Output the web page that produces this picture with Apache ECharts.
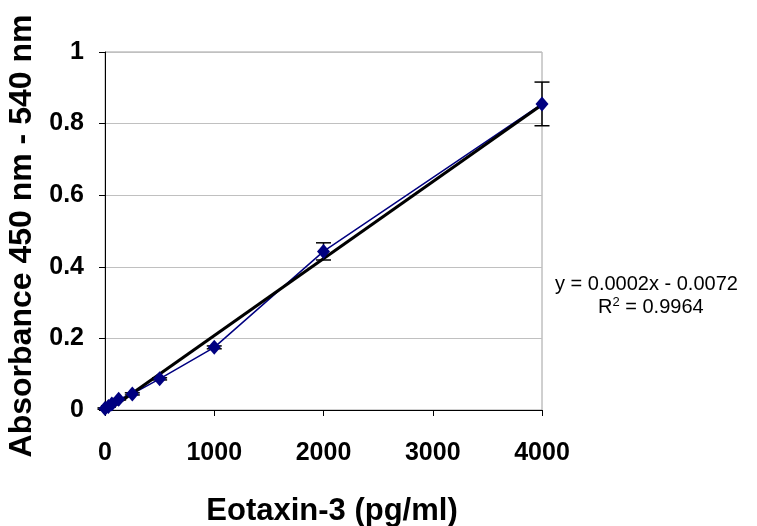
<!DOCTYPE html>
<html>
<head>
<meta charset="utf-8">
<style>
  html, body { margin: 0; padding: 0; background: #fff; }
  #chart { width: 757px; height: 526px; }
</style>
<script src="https://cdn.jsdelivr.net/npm/echarts@6/dist/echarts.min.js"></script>
</head>
<body>
<div id="chart"></div>
<script>
// Eotaxin-3 standard curve: concentration vs. absorbance
const concentrations = [0, 31.25, 62.5, 125, 250, 500, 1000, 2000, 4000];
const absorbance     = [0.004, 0.010, 0.017, 0.030, 0.045, 0.087, 0.175, 0.443, 0.855];
const errors         = [0.002, 0.002, 0.002, 0.002, 0.003, 0.003, 0.004, 0.024, 0.061];

// Linear trendline
const trendSlope = 0.000215;
const trendIntercept = -0.0072;
const rSquared = 0.9964;
const trendRange = [0, 4000];

const xTicks = [0, 1000, 2000, 3000, 4000];
const yTicks = [0, 0.2, 0.4, 0.6, 0.8, 1];

const points = concentrations.map((c, i) => [c, absorbance[i]]);
const errorData = concentrations.map((c, i) => [c, absorbance[i] - errors[i], absorbance[i] + errors[i]]);
const trendData = trendRange.map(x => [x, trendSlope * x + trendIntercept]);

const chart = echarts.init(document.getElementById('chart'), null, { renderer: 'canvas' });

const font = 'Arial, "Liberation Sans", sans-serif';
const eqText = 'y = ' + trendSlope.toFixed(4) + 'x - ' + Math.abs(trendIntercept).toFixed(4);

chart.setOption({
  animation: false,
  backgroundColor: '#fff',
  grid: {
    left: 105, top: 52, right: 215, bottom: 116,
    containLabel: false, outerBoundsMode: 'none',
    show: true, borderColor: '#a0a0a0', borderWidth: 1
  },
  xAxis: {
    type: 'value',
    min: xTicks[0], max: xTicks[xTicks.length - 1], interval: 1000,
    name: 'Eotaxin-3 (pg/ml)',
    nameLocation: 'middle',
    nameGap: 86,
    nameTextStyle: { fontFamily: font, fontWeight: 'bold', fontSize: 31, color: '#000', padding: [0, 0, 0, 17] },
    axisLine: { show: true, onZero: false, lineStyle: { color: '#000', width: 1 } },
    axisTick: { show: true, length: 6, lineStyle: { color: '#000' } },
    axisLabel: {
      fontFamily: font, fontWeight: 'bold', fontSize: 25, color: '#000', margin: 31,
      formatter: v => String(v)
    },
    splitLine: { show: false }
  },
  yAxis: {
    type: 'value',
    min: yTicks[0], max: yTicks[yTicks.length - 1], interval: 0.2,
    name: 'Absorbance 450 nm - 540 nm',
    nameLocation: 'middle',
    nameGap: 53,
    nameTextStyle: { fontFamily: font, fontWeight: 'bold', fontSize: 32, color: '#000', padding: [0, 10, 0, 0] },
    axisLine: { show: true, onZero: false, lineStyle: { color: '#000', width: 1 } },
    axisTick: { show: true, length: 6, lineStyle: { color: '#000' } },
    axisLabel: {
      fontFamily: font, fontWeight: 'bold', fontSize: 25, color: '#000', margin: 21,
      formatter: v => String(Math.round(v * 10) / 10)
    },
    splitLine: { show: true, lineStyle: { color: '#c0c0c0', width: 1 } }
  },
  series: [
    {
      name: 'measured',
      type: 'line',
      data: points,
      showSymbol: false,
      lineStyle: { color: '#000080', width: 1.5 },
      z: 2
    },
    {
      name: 'trend',
      type: 'line',
      data: trendData,
      showSymbol: false,
      lineStyle: { color: '#000', width: 3 },
      z: 3
    },
    {
      name: 'error',
      type: 'custom',
      data: errorData,
      z: 4,
      renderItem: function (params, api) {
        const x = api.value(0);
        const lo = api.coord([x, api.value(1)]);
        const hi = api.coord([x, api.value(2)]);
        const hw = 7.5;
        const style = { stroke: '#000', lineWidth: 1.5 };
        return {
          type: 'group',
          children: [
            { type: 'line', shape: { x1: hi[0], y1: hi[1], x2: lo[0], y2: lo[1] }, style },
            { type: 'line', shape: { x1: hi[0] - hw, y1: hi[1], x2: hi[0] + hw, y2: hi[1] }, style },
            { type: 'line', shape: { x1: lo[0] - hw, y1: lo[1], x2: lo[0] + hw, y2: lo[1] }, style }
          ]
        };
      }
    },
    {
      name: 'markers',
      type: 'scatter',
      data: points,
      symbol: 'diamond',
      symbolSize: [13, 15],
      itemStyle: { color: '#000080', opacity: 1 },
      z: 5
    }
  ],
  graphic: [
    {
      type: 'text',
      left: 555,
      top: 274,
      style: { text: eqText, fontFamily: font, fontSize: 20, fill: '#000' }
    },
    {
      type: 'text',
      left: 598,
      top: 296,
      style: {
        text: '{b|R}{s|2}{b| = ' + rSquared.toFixed(4) + '}',
        rich: {
          b: { fontFamily: font, fontSize: 20, fill: '#000', verticalAlign: 'bottom' },
          s: { fontFamily: font, fontSize: 13, fill: '#000', verticalAlign: 'top', padding: [0, 0, 8, 0] }
        }
      }
    }
  ]
});
</script>
</body>
</html>
